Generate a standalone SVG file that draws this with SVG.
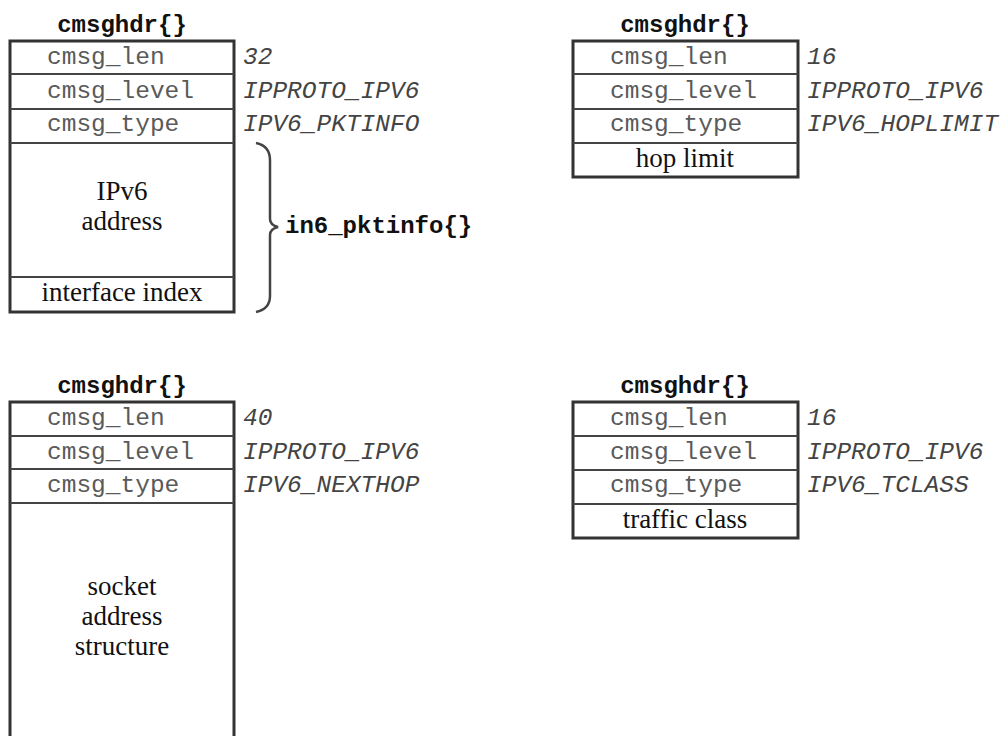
<svg xmlns="http://www.w3.org/2000/svg" width="1004" height="736" viewBox="0 0 1004 736">
<style>
.hdr{font-family:"Liberation Mono","Courier New",monospace;font-weight:bold;font-size:24px;fill:#111;text-anchor:middle}
.fld{font-family:"Liberation Mono","Courier New",monospace;font-size:24.5px;fill:#5a5a5a}
.val{font-family:"Liberation Mono","Courier New",monospace;font-style:italic;font-size:24.5px;fill:#444}
.ser{font-family:"Liberation Serif","Times New Roman",serif;font-size:27px;fill:#111;text-anchor:middle}
.outer{fill:#fff;stroke:#333;stroke-width:3}
.div{stroke:#444;stroke-width:2.2;fill:none}
.brace{stroke:#444;stroke-width:2.5;fill:none}
</style>
<rect width="1004" height="736" fill="#fff"/>

<g id="pktinfo">
<text class="hdr" x="122" y="32">cmsghdr{}</text>
<rect class="outer" x="10" y="41" width="224" height="271"/>
<line class="div" x1="10" y1="74" x2="234" y2="74"/>
<line class="div" x1="10" y1="109" x2="234" y2="109"/>
<line class="div" x1="10" y1="143" x2="234" y2="143"/>
<line class="div" x1="10" y1="277" x2="234" y2="277"/>
<text class="fld" x="47" y="64">cmsg_len</text>
<text class="fld" x="47" y="98">cmsg_level</text>
<text class="fld" x="47" y="131">cmsg_type</text>
<text class="val" x="243" y="64">32</text>
<text class="val" x="243" y="98">IPPROTO_IPV6</text>
<text class="val" x="243" y="131">IPV6_PKTINFO</text>
<text class="ser" x="122" y="200">IPv6</text>
<text class="ser" x="122" y="230">address</text>
<text class="ser" x="122" y="301">interface index</text>
</g>

<g id="connectors">
<path class="brace" d="M256,143 Q270,146 270,160 L270,219 Q270,225 278,227 Q270,229 270,235 L270,296 Q270,309 256,312"/>
</g>

<g id="in6_pktinfo_label">
<text class="hdr" x="285" y="233" style="text-anchor:start">in6_pktinfo{}</text>
</g>

<g id="hoplimit">
<text class="hdr" x="685" y="32">cmsghdr{}</text>
<rect class="outer" x="573" y="41" width="225" height="136"/>
<line class="div" x1="573" y1="74" x2="798" y2="74"/>
<line class="div" x1="573" y1="109" x2="798" y2="109"/>
<line class="div" x1="573" y1="143" x2="798" y2="143"/>
<text class="fld" x="610" y="64">cmsg_len</text>
<text class="fld" x="610" y="98">cmsg_level</text>
<text class="fld" x="610" y="131">cmsg_type</text>
<text class="val" x="807" y="64">16</text>
<text class="val" x="807" y="98">IPPROTO_IPV6</text>
<text class="val" x="807" y="131">IPV6_HOPLIMIT</text>
<text class="ser" x="685" y="167">hop limit</text>
</g>

<g id="nexthop">
<text class="hdr" x="122" y="393">cmsghdr{}</text>
<rect class="outer" x="10" y="402" width="224" height="360"/>
<line class="div" x1="10" y1="436" x2="234" y2="436"/>
<line class="div" x1="10" y1="469" x2="234" y2="469"/>
<line class="div" x1="10" y1="503" x2="234" y2="503"/>
<text class="fld" x="47" y="425">cmsg_len</text>
<text class="fld" x="47" y="459">cmsg_level</text>
<text class="fld" x="47" y="492">cmsg_type</text>
<text class="val" x="243" y="425">40</text>
<text class="val" x="243" y="459">IPPROTO_IPV6</text>
<text class="val" x="243" y="492">IPV6_NEXTHOP</text>
<text class="ser" x="122" y="595">socket</text>
<text class="ser" x="122" y="625">address</text>
<text class="ser" x="122" y="655">structure</text>
</g>

<g id="tclass">
<text class="hdr" x="685" y="393">cmsghdr{}</text>
<rect class="outer" x="573" y="402" width="225" height="136"/>
<line class="div" x1="573" y1="436" x2="798" y2="436"/>
<line class="div" x1="573" y1="470" x2="798" y2="470"/>
<line class="div" x1="573" y1="504" x2="798" y2="504"/>
<text class="fld" x="610" y="425">cmsg_len</text>
<text class="fld" x="610" y="459">cmsg_level</text>
<text class="fld" x="610" y="492">cmsg_type</text>
<text class="val" x="807" y="425">16</text>
<text class="val" x="807" y="459">IPPROTO_IPV6</text>
<text class="val" x="807" y="492">IPV6_TCLASS</text>
<text class="ser" x="685" y="528">traffic class</text>
</g>
</svg>
